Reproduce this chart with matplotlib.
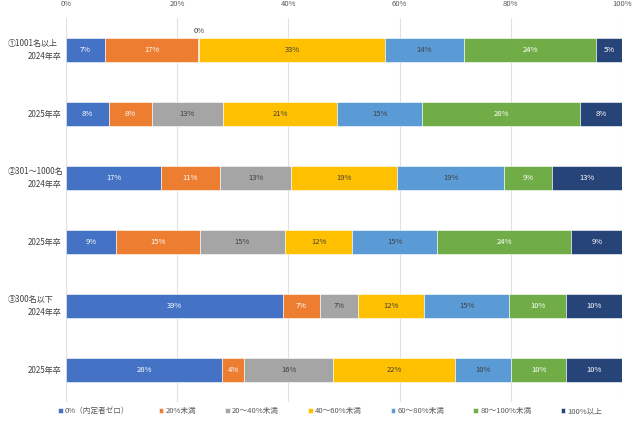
import matplotlib
matplotlib.use("Agg")
import numpy as np
from matplotlib import pyplot as plt
from matplotlib.transforms import blended_transform_factory

plt.rcParams['font.family'] = ['Noto Sans CJK JP', 'DejaVu Sans']

# rows, top to bottom
groups = ["①1001名以上", "", "②301～1000名", "", "③300名以下", ""]
years = ["2024年卒", "2025年卒", "2024年卒", "2025年卒", "2024年卒", "2025年卒"]

series = ["0%（内定者ゼロ）", "20%未満", "20～40%未満", "40～60%未満",
          "60～80%未満", "80～100%未満", "100%以上"]

zero = [7.0, 7.7, 17.1, 9.0, 39.0, 28.1]
under20 = [16.8, 7.7, 10.6, 15.1, 6.7, 4.0]
p20_40 = [0.2, 12.8, 12.8, 15.3, 6.8, 16.0]
p40_60 = [33.4, 20.6, 19.1, 12.1, 11.9, 21.9]
p60_80 = [14.2, 15.3, 19.2, 15.3, 15.3, 10.1]
p80_100 = [23.8, 28.3, 8.6, 24.1, 10.3, 9.9]
over100 = [4.6, 7.6, 12.6, 9.1, 10.0, 10.0]

colors = ["#4472C4", "#ED7D31", "#A5A5A5", "#FFC000", "#5B9BD5", "#70AD47", "#264478"]
text_colors = ["white", "white", "#404040", "#404040", "#404040", "white", "white"]

values = [zero, under20, p20_40, p40_60, p60_80, p80_100, over100]

fig = plt.figure(figsize=(6.4, 4.25), dpi=100)
ax = fig.add_axes([66 / 640, 1 - 402 / 425, 556 / 640, 384 / 425])

y = np.arange(len(years))
left = np.zeros(len(years))
for vals, name, c, tc in zip(values, series, colors, text_colors):
    vals = np.array(vals)
    ax.barh(y, vals, left=left, height=0.39, color=c, label=name,
            edgecolor="white", linewidth=0.4)
    for yi, v, l in zip(y, vals, left):
        if v < 1:
            # zero-width segment: label sits above the bar
            ax.text(l + v / 2, yi - 0.23, f"{v:.0f}%", ha="center", va="bottom",
                    fontsize=5.5, color="#404040")
        else:
            ax.text(l + v / 2, yi, f"{v:.0f}%", ha="center", va="center",
                    fontsize=5.5, color=tc)
    left = left + vals

ax.set_xlim(0, 100)
ax.set_ylim(5.5, -0.5)
ax.set_xticks(np.arange(0, 101, 20))
ax.set_xticklabels([f"{t}%" for t in range(0, 101, 20)])
ax.xaxis.tick_top()
ax.tick_params(axis="x", length=0, labelsize=5.5, colors="#595959", pad=7)
ax.set_yticks([])
ax.grid(axis="x", color="#E0E0E0", linewidth=0.8)
ax.set_axisbelow(True)
for s in ax.spines.values():
    s.set_visible(False)

trans = blended_transform_factory(fig.transFigure, ax.transData)
for yi, (g, yr) in enumerate(zip(groups, years)):
    if g:
        fig.text(8 / 640, 0, g, transform=trans, fontsize=5.8, color="#404040",
                 ha="left", va="center").set_y(yi - 0.1)
        fig.text(61 / 640, 0, yr, transform=trans, fontsize=5.8, color="#404040",
                 ha="right", va="center").set_y(yi + 0.1)
    else:
        fig.text(61 / 640, 0, yr, transform=trans, fontsize=5.8, color="#404040",
                 ha="right", va="center").set_y(yi)

leg = fig.legend(loc="center", bbox_to_anchor=(0.516, 1 - 411 / 425), ncol=7,
                 frameon=False, fontsize=5.5, handlelength=0.6, handleheight=0.6,
                 handletextpad=0.3, columnspacing=3.8)
for t in leg.get_texts():
    t.set_color("#595959")

fig.savefig("out.png", dpi=100)
